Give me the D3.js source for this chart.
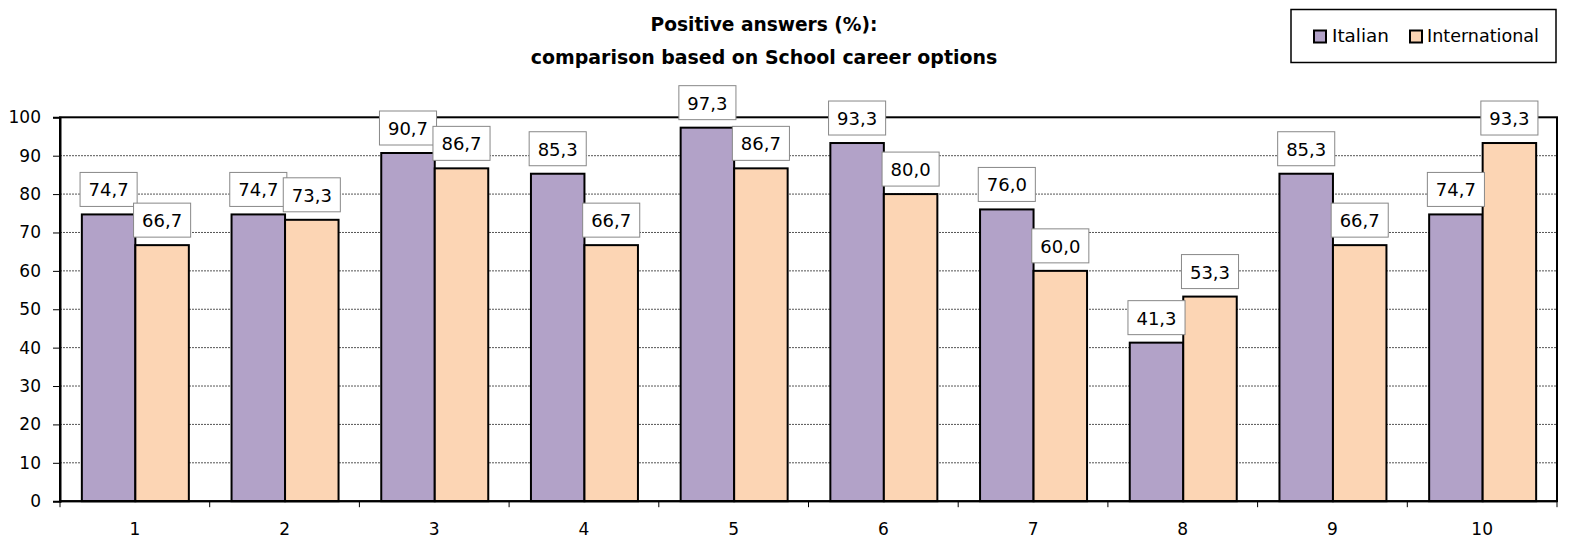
<!DOCTYPE html>
<html>
<head>
<meta charset="utf-8">
<script src="https://cdn.jsdelivr.net/npm/d3@7"></script>
<style>
  html, body { margin: 0; padding: 0; background: #fff; }
  svg { display: block; }
</style>
</head>
<body>
<svg id="chart" width="1578" height="538"></svg>
<script>
// ---- data ----
const categories = ["1", "2", "3", "4", "5", "6", "7", "8", "9", "10"];
const seriesNames = ["Italian", "International"];
const italian = [74.7, 74.7, 90.7, 85.3, 97.3, 93.3, 76.0, 41.3, 85.3, 74.7];
const international = [66.7, 73.3, 86.7, 66.7, 86.7, 80.0, 60.0, 53.3, 66.7, 93.3];
const yTicks = [0, 10, 20, 30, 40, 50, 60, 70, 80, 90, 100];
const titleLines = ["Positive answers (%):", "comparison based on School career options"];

const colors = { "Italian": "#B2A2C8", "International": "#FCD5B4" };
const series = [
  { name: "Italian", values: italian },
  { name: "International", values: international }
];

const svg = d3.select("#chart");
const plot = { left: 60, top: 117.3, right: 1557, bottom: 501.2 };
const fmt = v => d3.format(".1f")(v).replace(".", ",");
const labelFont = "'DejaVu Sans', Verdana, sans-serif";
const comic = "'Comic Sans MS', 'Comic Sans', 'DejaVu Sans', sans-serif";

const x = d3.scaleBand().domain(categories).range([plot.left, plot.right]).paddingInner(0).paddingOuter(0);
const groupW = 107;
const xs = d3.scaleBand().domain(seriesNames).range([0, groupW]).padding(0);
const y = d3.scaleLinear().domain([0, 100]).range([plot.bottom, plot.top]);

// gridlines
svg.append("g").selectAll("line").data(yTicks.filter(t => t > 0 && t < 100)).join("line")
  .attr("x1", plot.left).attr("x2", plot.right)
  .attr("y1", d => y(d)).attr("y2", d => y(d))
  .attr("stroke", "#555").attr("stroke-width", 1).attr("stroke-dasharray", "2,1");

// bars
const groups = svg.append("g").selectAll("g").data(categories).join("g")
  .attr("transform", d => `translate(${x(d) + (x.bandwidth() - groupW) / 2 + 0.5},0)`);
series.forEach(s => {
  groups.append("rect")
    .attr("x", xs(s.name))
    .attr("width", xs.bandwidth())
    .attr("y", (d, i) => y(s.values[i]))
    .attr("height", (d, i) => plot.bottom - y(s.values[i]))
    .attr("fill", colors[s.name])
    .attr("stroke", "#000").attr("stroke-width", 2);
});

// plot border
svg.append("rect")
  .attr("x", plot.left).attr("y", plot.top)
  .attr("width", plot.right - plot.left).attr("height", plot.bottom - plot.top)
  .attr("fill", "none").attr("stroke", "#000").attr("stroke-width", 2);

// y axis
const yAxis = d3.axisLeft(y).tickValues(yTicks).tickSize(7).tickPadding(12).tickFormat(d3.format("d"));
const gy = svg.append("g").attr("transform", `translate(${plot.left},0)`).call(yAxis);
gy.select(".domain").attr("stroke", "#000").attr("stroke-width", 2);
gy.selectAll(".tick line").attr("stroke", "#000").attr("stroke-width", 1);
gy.selectAll(".tick text").attr("font-family", labelFont).attr("font-size", 17).attr("fill", "#000");

// x axis: ticks at category boundaries
const boundaries = d3.range(categories.length + 1).map(i => plot.left + i * x.step());
svg.append("g").selectAll("line").data(boundaries).join("line")
  .attr("x1", d => d).attr("x2", d => d)
  .attr("y1", plot.bottom).attr("y2", plot.bottom + 6)
  .attr("stroke", "#000").attr("stroke-width", 1);
svg.append("line").attr("x1", plot.left).attr("x2", plot.right)
  .attr("y1", plot.bottom).attr("y2", plot.bottom).attr("stroke", "#000").attr("stroke-width", 2);
svg.append("g").selectAll("text").data(categories).join("text")
  .attr("x", d => x(d) + x.bandwidth() / 2)
  .attr("y", 535)
  .attr("text-anchor", "middle")
  .attr("font-family", labelFont).attr("font-size", 17)
  .text(d => d);

// value labels
series.forEach(s => {
  const lg = svg.append("g");
  categories.forEach((c, i) => {
    const v = s.values[i];
    const cx = x(c) + (x.bandwidth() - groupW) / 2 + 0.5 + xs(s.name) + xs.bandwidth() / 2;
    const bottom = y(v) - 8;
    const g = lg.append("g");
    const r = g.append("rect");
    const t = g.append("text")
      .attr("x", cx).attr("y", bottom - 10)
      .attr("text-anchor", "middle")
      .attr("font-family", labelFont).attr("font-size", 18).attr("fill", "#000")
      .text(fmt(v));
    const w = t.node().getComputedTextLength() + 17;
    r.attr("x", cx - w / 2).attr("y", bottom - 34).attr("width", w).attr("height", 34)
      .attr("fill", "#fff").attr("stroke", "#888").attr("stroke-width", 1);
  });
});

// title
const titleW = [227, 467];
titleLines.forEach((line, i) => {
  const t = svg.append("text")
    .attr("x", 764).attr("y", i === 0 ? 31 : 64)
    .attr("text-anchor", "middle")
    .attr("font-family", comic).attr("font-weight", "bold").attr("font-size", 20)
    .text(line);
  const len = t.node().getComputedTextLength();
  t.attr("font-size", 20 * titleW[i] / len);
});

// legend
const lg = svg.append("g");
lg.append("rect").attr("x", 1291).attr("y", 9.5).attr("width", 265).attr("height", 53)
  .attr("fill", "#fff").attr("stroke", "#000").attr("stroke-width", 1.5);
const legendPos = [{ sx: 1314, tx: 1332, tw: 57 }, { sx: 1410, tx: 1427, tw: 112 }];
series.forEach((s, i) => {
  lg.append("rect").attr("x", legendPos[i].sx).attr("y", 30.5).attr("width", 12).attr("height", 12)
    .attr("fill", colors[s.name]).attr("stroke", "#000").attr("stroke-width", 2);
  const t = lg.append("text").attr("x", legendPos[i].tx).attr("y", 42)
    .attr("font-family", comic).attr("font-size", 16).text(s.name);
  const len = t.node().getComputedTextLength();
  t.attr("font-size", 16 * legendPos[i].tw / len);
});
</script>
</body>
</html>
